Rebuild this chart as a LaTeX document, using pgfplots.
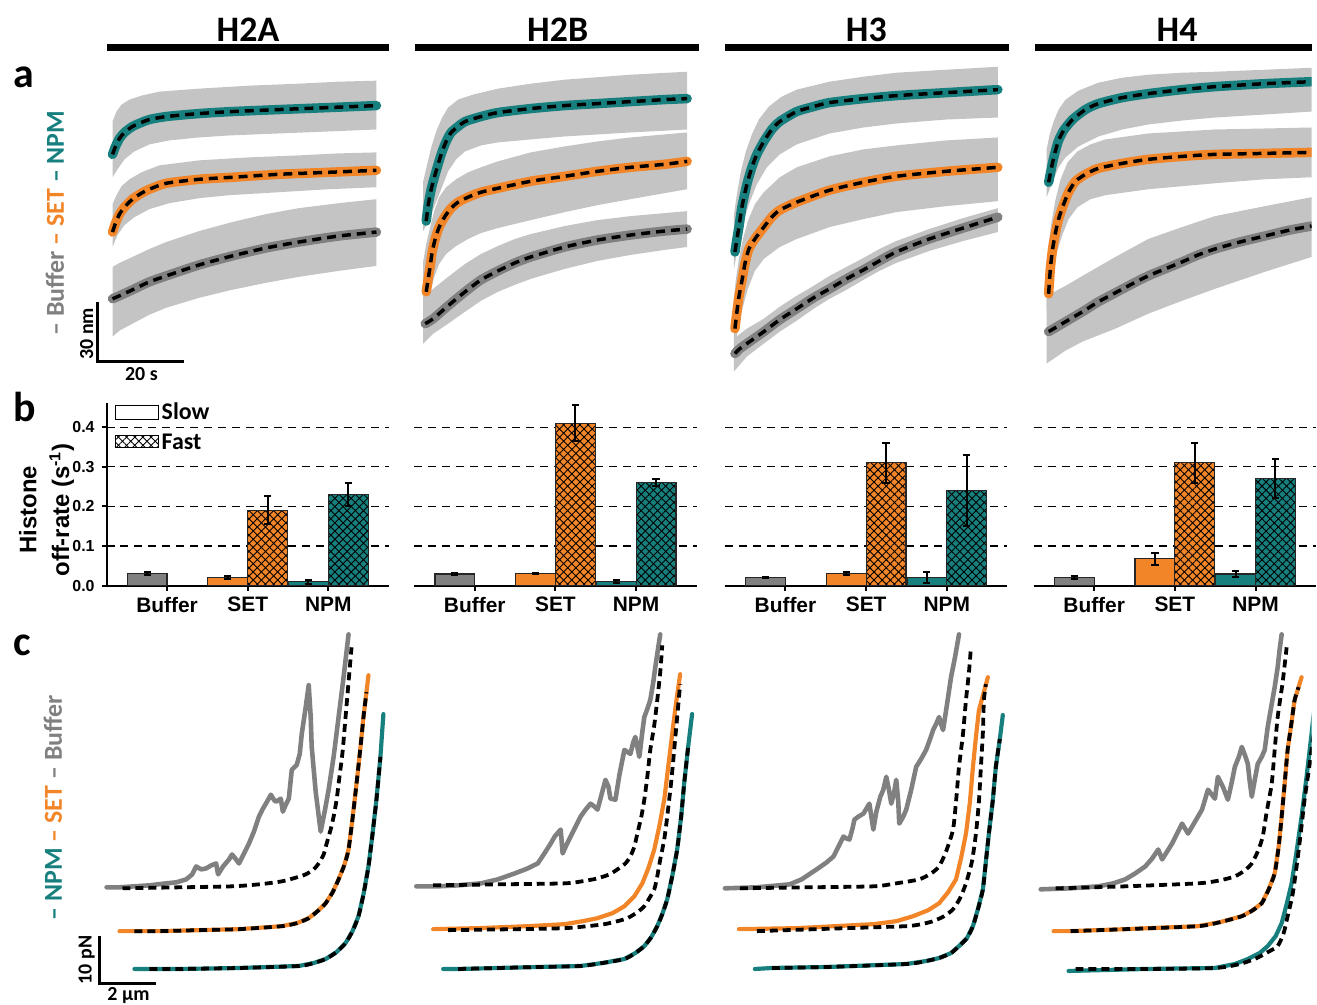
\documentclass[border=0pt]{standalone}
\usepackage{pgfplots}
\pgfplotsset{compat=1.18}
\usepackage{pgfplotstable}
\usetikzlibrary{patterns.meta}
\usepackage{fontspec}
\setmainfont{Carlito}
\newfontfamily\arial{Liberation Sans}

\definecolor{cteal}{HTML}{17807F}
\definecolor{corange}{HTML}{F28527}
\definecolor{cgray}{HTML}{808080}
\definecolor{cband}{HTML}{C4C4C4}

\tikzset{xhatch/.style={postaction={pattern={Lines[angle=45,distance=2.9pt,line width=0.45pt]}},
                        postaction={pattern={Lines[angle=-45,distance=2.9pt,line width=0.45pt]}}}}

\pgfplotsset{
  band/.style={fill=cband, draw=none},
  trA/.style={line width=4.75pt, smooth, tension=0.4, line cap=round, line join=round},
  fitA/.style={black, line width=1.75pt, dash pattern=on 4.5pt off 3pt, smooth, tension=0.4},
  trC/.style={line width=2.1pt, line join=round, line cap=round},
  fitC/.style={black, line width=1.9pt, dash pattern=on 4pt off 2.5pt, smooth, tension=0.4},
  bars/.style={scale only axis, width=141.75pt, height=91.5pt,
    xmin=-0.75, xmax=2.75, ymin=0, ymax=0.46,
    axis x line*=bottom, axis y line*=left,
    axis line style={-, line width=1pt, black},
    xtick={0,1,2}, xticklabels={Buffer,SET,NPM},
    ytick={0,0.1,0.2,0.3,0.4},
    ymajorgrids, major grid style={black, line width=0.6pt, dash pattern=on 4pt off 3pt},
    tick align=outside, major tick length=2.5pt, tick style={line width=1pt, black},
    /pgf/number format/assume math mode=true,
    xticklabel style={font=\arial\bfseries\fontsize{10.5}{12}\selectfont, inner sep=1pt, yshift=-2pt},
    yticklabel style={font=\arial\bfseries\fontsize{8}{9}\selectfont,
      /pgf/number format/fixed, /pgf/number format/fixed zerofill, /pgf/number format/precision=1},
    anchor=south west},
  noy/.style={y axis line style={draw=none}, ytick style={draw=none}, yticklabels={}},
  bar/.style={ybar, bar width=20pt, bar shift=0pt, draw=black!85, line width=0.6pt,
    /pgfplots/error bars/y dir=both, /pgfplots/error bars/y explicit,
    /pgfplots/error bars/error bar style={black, line width=1pt, solid},
    /pgfplots/error bars/error mark options={black, rotate=90, mark size=1.8pt, line width=1pt}},
  slow/.style={bar},
  fast/.style={bar, xhatch},
}

% ---------- panel a: traces (pixel-read positions) ----------
\pgfplotstableread[row sep=\\]{x y\\113 155\\116 147\\120 139\\125 133\\133 127\\142 123\\150 120\\167 117\\200 114\\233 112\\280 110\\330 108\\378 106\\}\aAnpm
\pgfplotstableread[row sep=\\]{x y\\113 233\\116 224\\120 215\\125 208\\133 200\\142 194\\150 190\\167 184\\200 180\\233 178\\280 175\\330 173\\378 171\\}\aAset
\pgfplotstableread[row sep=\\]{x y\\113 300\\120 297\\133 291\\150 283\\167 277\\200 266\\233 257\\267 249\\300 243\\340 237\\378 233\\}\aAbuf
\pgfplotstableread[row sep=\\]{x y\\428 222\\430 206\\433 190\\437 175\\443 155\\448 142\\453 133\\460 127\\467 122\\483 117\\500 113\\533 109\\567 106\\600 104\\633 102\\667 100\\690 99\\}\aBnpm
\pgfplotstableread[row sep=\\]{x y\\428 293\\430 280\\432 267\\434 253\\437 240\\441 228\\447 217\\453 209\\460 203\\470 198\\483 193\\500 189\\533 182\\567 177\\600 172\\633 168\\667 165\\690 162\\}\aBset
\pgfplotstableread[row sep=\\]{x y\\427 325\\435 320\\450 307\\467 293\\483 281\\500 272\\517 264\\533 258\\567 248\\600 241\\633 236\\667 232\\690 230\\}\aBbuf
\pgfplotstableread[row sep=\\]{x y\\738 253\\740 240\\742 228\\745 208\\750 185\\755 168\\760 155\\767 142\\775 130\\783 122\\800 112\\817 107\\833 103\\867 99\\900 96\\950 93\\1002 90\\}\aCnpm
\pgfplotstableread[row sep=\\]{x y\\738 330\\740 313\\742 298\\745 282\\748 265\\752 250\\758 240\\767 228\\775 218\\783 211\\800 203\\833 191\\867 183\\900 177\\950 172\\1002 168\\}\aCset
\pgfplotstableread[row sep=\\]{x y\\738 355\\743 350\\750 345\\767 333\\783 321\\800 310\\817 299\\833 290\\850 280\\867 271\\883 262\\900 253\\933 240\\967 229\\1002 218\\}\aCbuf
\pgfplotstableread[row sep=\\]{x y\\1053 183\\1055 173\\1057 163\\1060 151\\1063 141\\1068 131\\1077 120\\1090 110\\1103 104\\1127 98\\1153 94\\1187 90\\1220 87\\1270 84\\1317 82\\}\aDnpm
\pgfplotstableread[row sep=\\]{x y\\1053 295\\1054 280\\1055 267\\1057 250\\1060 233\\1063 220\\1067 208\\1073 193\\1080 182\\1090 175\\1103 169\\1127 164\\1153 160\\1187 157\\1220 155\\1270 154\\1317 153\\}\aDset
\pgfplotstableread[row sep=\\]{x y\\1053 333\\1070 323\\1087 313\\1103 303\\1120 294\\1137 285\\1153 277\\1170 270\\1187 263\\1203 256\\1220 250\\1245 243\\1270 237\\1295 231\\1317 227\\}\aDbuf

% ---------- panel c: force-extension ----------
\pgfplotstableread[row sep=\\]{x y\\107 891\\120 891\\135 890\\150 889\\167 887\\177 886\\187 883\\193 878\\197 870\\202 873\\207 872\\212 869\\217 867\\219 878\\224 870\\230 863\\233 858\\237 863\\240 867\\245 857\\250 847\\255 835\\260 820\\264 812\\267 807\\272 798\\275 803\\277 805\\282 802\\284 815\\287 808\\290 802\\293 773\\296 770\\298 768\\301 757\\303 737\\307 710\\310 688\\312 720\\313 750\\317 795\\322 835\\326 815\\330 793\\335 760\\340 720\\345 680\\350 637\\}\cAbuf
\pgfplotstableread[row sep=\\]{x y\\123 892\\180 891\\233 890\\260 888\\283 885\\298 881\\307 878\\315 873\\320 867\\325 858\\328 847\\332 833\\335 820\\338 803\\340 787\\344 755\\347 720\\350 685\\353 650\\}\cAbuffit
\pgfplotstableread[row sep=\\]{x y\\120 935\\135 935\\160 935\\200 934\\240 933\\283 930\\298 927\\310 922\\320 914\\327 907\\334 896\\340 883\\346 868\\350 853\\354 822\\358 787\\362 750\\365 720\\368 695\\370 678\\}\cAset
\pgfplotstableread[row sep=\\]{x y\\135 973\\150 973\\180 973\\240 972\\300 970\\315 967\\327 963\\338 956\\347 947\\354 935\\360 920\\365 898\\370 870\\374 838\\378 803\\382 760\\385 717\\}\cAnpm
\pgfplotstableread[row sep=\\]{x y\\418 890\\440 890\\460 889\\483 887\\500 883\\517 877\\530 872\\540 867\\546 858\\553 847\\557 840\\563 833\\565 857\\569 848\\573 840\\578 830\\583 820\\588 813\\593 807\\597 810\\600 813\\604 798\\608 783\\611 790\\613 802\\618 803\\622 778\\627 753\\630 755\\633 757\\636 745\\638 740\\640 750\\642 760\\645 735\\647 720\\650 712\\653 703\\656 685\\658 670\\661 650\\663 637\\}\cBbuf
\pgfplotstableread[row sep=\\]{x y\\435 889\\500 888\\567 887\\590 884\\600 882\\612 878\\620 873\\628 867\\633 860\\637 850\\640 837\\644 820\\647 803\\650 780\\653 753\\657 728\\660 703\\663 675\\665 648\\}\cBbuffit
\pgfplotstableread[row sep=\\]{x y\\435 933\\480 932\\530 930\\567 928\\585 925\\600 922\\615 917\\627 910\\637 900\\645 887\\651 872\\657 853\\662 830\\667 803\\671 770\\675 737\\679 705\\683 677\\}\cBset
\pgfplotstableread[row sep=\\]{x y\\450 934\\520 933\\567 932\\590 930\\607 928\\620 925\\630 922\\640 916\\647 910\\652 902\\657 893\\660 880\\663 863\\667 843\\670 820\\674 785\\677 753\\680 720\\683 687\\}\cBsetfit
\pgfplotstableread[row sep=\\]{x y\\445 973\\460 973\\500 972\\540 971\\583 970\\605 967\\627 963\\638 957\\647 950\\654 941\\660 930\\665 918\\670 903\\675 880\\680 853\\684 820\\687 787\\691 750\\695 717\\}\cBnpm
\pgfplotstableread[row sep=\\]{x y\\728 892\\760 891\\793 888\\805 883\\820 873\\830 866\\837 860\\842 850\\847 840\\850 842\\853 843\\856 832\\858 823\\862 820\\867 817\\870 812\\873 807\\875 820\\877 833\\880 815\\884 800\\887 793\\890 780\\893 795\\895 807\\898 795\\900 783\\902 805\\903 827\\907 820\\910 813\\915 793\\920 770\\925 762\\930 753\\934 742\\937 733\\940 727\\943 720\\945 727\\947 733\\951 707\\955 680\\959 660\\963 637\\}\cCbuf
\pgfplotstableread[row sep=\\]{x y\\743 892\\810 891\\877 890\\900 887\\923 883\\935 877\\943 870\\950 855\\957 833\\960 805\\963 770\\967 737\\970 703\\973 675\\975 650\\}\cCbuffit
\pgfplotstableread[row sep=\\]{x y\\742 933\\800 932\\877 928\\900 925\\917 920\\932 914\\943 907\\952 896\\960 883\\965 862\\970 837\\974 805\\977 770\\980 740\\983 713\\988 695\\992 680\\}\cCset
\pgfplotstableread[row sep=\\]{x y\\760 935\\850 932\\910 930\\925 928\\937 925\\948 920\\957 913\\964 902\\970 887\\976 865\\980 837\\983 805\\985 770\\987 735\\988 703\\990 687\\}\cCsetfit
\pgfplotstableread[row sep=\\]{x y\\758 973\\775 972\\830 971\\910 968\\930 965\\943 962\\955 957\\963 950\\971 942\\977 930\\982 913\\987 893\\990 865\\993 837\\997 803\\1000 770\\1004 742\\1007 718\\}\cCnpm
\pgfplotstableread[row sep=\\]{x y\\1045 893\\1075 892\\1103 890\\1118 887\\1130 883\\1140 877\\1150 870\\1157 862\\1163 853\\1165 858\\1167 863\\1172 855\\1177 847\\1182 837\\1187 827\\1190 832\\1193 837\\1200 825\\1207 813\\1210 803\\1213 793\\1217 798\\1220 802\\1223 780\\1228 790\\1233 803\\1237 785\\1240 770\\1244 760\\1247 750\\1250 758\\1253 767\\1255 785\\1257 800\\1260 783\\1263 767\\1267 760\\1270 753\\1273 730\\1277 707\\1280 690\\1283 670\\1285 652\\1287 637\\}\cDbuf
\pgfplotstableread[row sep=\\]{x y\\1060 892\\1130 890\\1203 887\\1225 884\\1240 880\\1250 874\\1257 867\\1263 855\\1268 840\\1272 815\\1277 787\\1280 753\\1283 720\\1288 685\\1292 650\\}\cDbuffit
\pgfplotstableread[row sep=\\]{x y\\1058 935\\1075 935\\1130 933\\1203 930\\1225 926\\1247 920\\1258 914\\1267 907\\1274 893\\1280 877\\1284 850\\1287 820\\1290 787\\1293 753\\1297 725\\1300 703\\1304 690\\1307 680\\}\cDset
\pgfplotstableread[row sep=\\]{x y\\1073 975\\1150 973\\1220 972\\1240 968\\1253 963\\1265 957\\1273 950\\1281 940\\1287 927\\1292 908\\1297 887\\1302 855\\1307 820\\1312 780\\1317 737\\1322 690\\}\cDnpm
\pgfplotstableread[row sep=\\]{x y\\1080 973\\1150 973\\1220 972\\1245 968\\1262 962\\1275 955\\1283 950\\1289 937\\1293 920\\1298 898\\1302 870\\1306 838\\1310 803\\1314 775\\1317 753\\1320 730\\}\cDnpmfit

\begin{document}
\begin{tikzpicture}
\begin{scope}[x=0.5pt,y=-0.5pt]
  \useasboundingbox (0,0) rectangle (1317,1009);
  \coordinate (cen) at (658.5,504.5);
  \coordinate (b1) at (107,588);
  \coordinate (b2) at (416,588);
  \coordinate (b3) at (728,588);
  \coordinate (b4) at (1038,588);
\end{scope}

% ===== panels a and c (image-wide frame, values in picture pixels) =====
\begin{axis}[scale only axis, width=658.5pt, height=504.5pt, at={(cen)}, anchor=center,
  xmin=0, xmax=1317, ymin=0, ymax=1009, y dir=reverse, hide axis]
  % --- H2A bands
  \addplot[band] coordinates {(113,122) (117,112) (122,105) (130,100) (142,96) (160,92) (200,89) (250,86) (300,84) (340,82) (378,81) (378,130) (330,132) (280,134) (230,136) (200,138) (170,141) (150,145) (135,152) (125,160) (118,170) (113,178)} --cycle;
  \addplot[band] coordinates {(113,205) (117,196) (122,187) (130,180) (142,173) (160,166) (200,161) (250,158) (300,156) (340,154) (378,153) (378,188) (330,190) (280,193) (230,196) (200,199) (170,204) (150,210) (135,218) (125,226) (118,236) (113,248)} --cycle;
  \addplot[band] coordinates {(113,268) (120,264) (133,258) (150,250) (167,243) (200,232) (233,223) (267,215) (300,209) (340,204) (378,200) (378,267) (340,272) (300,278) (267,284) (233,291) (200,299) (167,309) (150,316) (133,325) (120,332) (113,338)} --cycle;
  % --- H2B bands
  \addplot[band] coordinates {(425,182) (429,165) (433,148) (438,132) (444,118) (450,108) (460,100) (475,95) (500,89) (533,84) (567,80) (633,75) (690,72) (690,130) (633,133) (567,137) (533,140) (500,143) (483,146) (467,152) (458,160) (450,172) (443,190) (437,205) (432,218) (425,232)} --cycle;
  \addplot[band] coordinates {(425,262) (428,245) (432,228) (436,212) (441,198) (448,188) (458,180) (470,173) (483,168) (500,162) (533,153) (567,147) (600,142) (633,138) (667,135) (690,133) (690,190) (667,194) (633,200) (600,206) (567,213) (533,221) (500,229) (483,234) (470,240) (458,247) (448,255) (441,265) (436,278) (432,295) (428,312) (425,328)} --cycle;
  \addplot[band] coordinates {(425,298) (435,290) (450,278) (467,265) (483,255) (500,247) (517,240) (533,235) (567,227) (600,221) (633,217) (667,214) (690,212) (690,248) (667,251) (633,256) (600,262) (567,270) (533,280) (517,286) (500,293) (483,302) (467,313) (450,325) (435,335) (425,345)} --cycle;
  % --- H3 bands
  \addplot[band] coordinates {(737,215) (740,195) (744,172) (749,152) (755,135) (762,120) (772,107) (785,97) (800,90) (833,82) (867,77) (900,73) (950,70) (1002,67) (1002,118) (950,120) (900,124) (867,128) (833,134) (800,145) (783,155) (770,168) (760,185) (752,205) (746,225) (741,248) (737,270)} --cycle;
  \addplot[band] coordinates {(737,300) (739,280) (742,260) (746,240) (751,222) (758,205) (767,193) (783,178) (800,168) (833,157) (867,150) (900,146) (950,141) (1002,138) (1002,202) (950,207) (900,213) (867,220) (833,228) (800,240) (783,248) (767,260) (758,272) (751,290) (746,308) (742,325) (739,343) (737,358)} --cycle;
  \addplot[band] coordinates {(737,340) (750,330) (767,320) (783,308) (800,297) (817,287) (833,277) (850,268) (867,259) (883,250) (900,242) (933,230) (967,219) (1002,209) (1002,233) (967,242) (933,252) (900,264) (883,272) (867,281) (850,291) (833,300) (817,310) (800,322) (783,333) (767,345) (750,358) (737,373)} --cycle;
  % --- H4 bands
  \addplot[band] coordinates {(1051,150) (1054,135) (1058,122) (1063,110) (1070,100) (1083,91) (1103,83) (1127,78) (1153,75) (1187,73) (1220,72) (1270,70) (1317,68) (1317,112) (1270,115) (1220,118) (1187,121) (1153,125) (1127,130) (1103,137) (1083,147) (1070,158) (1063,168) (1058,180) (1054,190) (1051,198)} --cycle;
  \addplot[band] coordinates {(1051,265) (1053,245) (1056,222) (1060,200) (1065,180) (1072,163) (1082,152) (1095,145) (1110,140) (1153,134) (1220,130) (1270,129) (1317,128) (1317,178) (1270,180) (1220,184) (1153,190) (1110,196) (1095,200) (1082,208) (1073,220) (1066,238) (1060,258) (1056,280) (1053,298) (1051,312)} --cycle;
  \addplot[band] coordinates {(1051,297) (1070,287) (1087,277) (1120,258) (1153,240) (1187,228) (1220,217) (1270,207) (1317,198) (1317,258) (1270,273) (1220,290) (1187,302) (1153,315) (1120,330) (1087,343) (1070,352) (1051,365)} --cycle;

  % --- traces a
  \addplot[trA, cteal] table {\aAnpm};   \addplot[fitA] table {\aAnpm};
  \addplot[trA, corange] table {\aAset}; \addplot[fitA] table {\aAset};
  \addplot[trA, cgray] table {\aAbuf};   \addplot[fitA] table {\aAbuf};
  \addplot[trA, cteal] table {\aBnpm};   \addplot[fitA] table {\aBnpm};
  \addplot[trA, corange] table {\aBset}; \addplot[fitA] table {\aBset};
  \addplot[trA, cgray] table {\aBbuf};   \addplot[fitA] table {\aBbuf};
  \addplot[trA, cteal] table {\aCnpm};   \addplot[fitA] table {\aCnpm};
  \addplot[trA, corange] table {\aCset}; \addplot[fitA] table {\aCset};
  \addplot[trA, cgray] table {\aCbuf};   \addplot[fitA] table {\aCbuf};
  \addplot[trA, cteal] table {\aDnpm};   \addplot[fitA] table {\aDnpm};
  \addplot[trA, corange] table {\aDset}; \addplot[fitA] table {\aDset};
  \addplot[trA, cgray] table {\aDbuf};   \addplot[fitA] table {\aDbuf};

  % --- panel c
  \addplot[trC, cgray, line width=2.3pt] table {\cAbuf};    \addplot[fitC] table {\cAbuffit};
  \addplot[trC, corange] table {\cAset};  \addplot[fitC, restrict x to domain=133:369] table {\cAset};
  \addplot[trC, cteal] table {\cAnpm};    \addplot[fitC, restrict x to domain=148:383] table {\cAnpm};
  \addplot[trC, cgray, line width=2.3pt] table {\cBbuf};    \addplot[fitC] table {\cBbuffit};
  \addplot[trC, corange] table {\cBset};  \addplot[fitC] table {\cBsetfit};
  \addplot[trC, cteal] table {\cBnpm};    \addplot[fitC, restrict x to domain=458:692] table {\cBnpm};
  \addplot[trC, cgray, line width=2.3pt] table {\cCbuf};    \addplot[fitC] table {\cCbuffit};
  \addplot[trC, corange] table {\cCset};  \addplot[fitC] table {\cCsetfit};
  \addplot[trC, cteal] table {\cCnpm};    \addplot[fitC, restrict x to domain=773:1005] table {\cCnpm};
  \addplot[trC, cgray, line width=2.3pt] table {\cDbuf};    \addplot[fitC] table {\cDbuffit};
  \addplot[trC, corange] table {\cDset};  \addplot[fitC, restrict x to domain=1073:1305] table {\cDset};
  \addplot[trC, cteal] table {\cDnpm};    \addplot[fitC] table {\cDnpmfit};
\end{axis}

% ===== panel b: bar charts (slow bar left of category, fast bar right) =====
\begin{axis}[bars, at={(b1)}]
  \addplot[slow, fill=cgray]   coordinates {(-0.2469,0.030) +- (0,0.004)};
  \addplot[slow, fill=corange] coordinates {(0.7531,0.020) +- (0,0.004)};
  \addplot[fast, fill=corange] coordinates {(1.2469,0.190) +- (0,0.035)};
  \addplot[slow, fill=cteal]   coordinates {(1.7531,0.010) +- (0,0.005)};
  \addplot[fast, fill=cteal]   coordinates {(2.2469,0.230) +- (0,0.030)};
\end{axis}
\begin{axis}[bars, noy, at={(b2)}]
  \addplot[slow, fill=cgray]   coordinates {(-0.2469,0.029) +- (0,0.002)};
  \addplot[slow, fill=corange] coordinates {(0.7531,0.030) +- (0,0.002)};
  \addplot[fast, fill=corange] coordinates {(1.2469,0.410) +- (0,0.045)};
  \addplot[slow, fill=cteal]   coordinates {(1.7531,0.010) +- (0,0.004)};
  \addplot[fast, fill=cteal]   coordinates {(2.2469,0.260) +- (0,0.008)};
\end{axis}
\begin{axis}[bars, noy, at={(b3)}]
  \addplot[slow, fill=cgray]   coordinates {(-0.2469,0.020) +- (0,0.002)};
  \addplot[slow, fill=corange] coordinates {(0.7531,0.030) +- (0,0.004)};
  \addplot[fast, fill=corange] coordinates {(1.2469,0.310) +- (0,0.050)};
  \addplot[slow, fill=cteal]   coordinates {(1.7531,0.020) +- (0,0.014)};
  \addplot[fast, fill=cteal]   coordinates {(2.2469,0.240) +- (0,0.090)};
\end{axis}
\begin{axis}[bars, noy, at={(b4)}]
  \addplot[slow, fill=cgray]   coordinates {(-0.2469,0.020) +- (0,0.003)};
  \addplot[slow, fill=corange] coordinates {(0.7531,0.068) +- (0,0.015)};
  \addplot[fast, fill=corange] coordinates {(1.2469,0.310) +- (0,0.050)};
  \addplot[slow, fill=cteal]   coordinates {(1.7531,0.029) +- (0,0.008)};
  \addplot[fast, fill=cteal]   coordinates {(2.2469,0.270) +- (0,0.050)};
\end{axis}

% ===== annotations =====
\begin{scope}[x=0.5pt,y=-0.5pt]
  % column headers
  \fill (107,44) rectangle (391,51);
  \fill (417,44) rectangle (702,51);
  \fill (728,44) rectangle (1013,51);
  \fill (1039,44) rectangle (1317,51);
  \begin{scope}[every node/.style={font=\bfseries\fontsize{18}{20}\selectfont, anchor=base, inner sep=0pt}]
    \node at (249,42) {H2A};
    \node at (560,42) {H2B};
    \node at (870,42) {H3};
    \node at (1182,42) {H4};
  \end{scope}
  % panel letters
  \begin{scope}[every node/.style={font=\bfseries\fontsize{21}{24}\selectfont, anchor=base, inner sep=0pt}]
    \node at (24,88) {a};
    \node at (25,423) {b};
    \node at (22,658) {c};
  \end{scope}
  % series keys
  \node[rotate=90, font=\bfseries\fontsize{13}{15}\selectfont, inner sep=0pt] at (55,224)
     {\textcolor{cgray}{– Buffer} \textcolor{corange}{– SET} \textcolor{cteal}{– NPM}};
  \node[rotate=90, font=\bfseries\fontsize{13}{15}\selectfont, inner sep=0pt] at (53,811)
     {\textcolor{cteal}{– NPM} \textcolor{corange}{– SET} \textcolor{cgray}{– Buffer}};
  % scale bars
  \draw[line width=1.5pt, line join=miter] (98,303) -- (98,363) -- (185,363);
  \node[rotate=90, font=\bfseries\fontsize{10}{12}\selectfont, inner sep=0pt] at (87,335) {30 nm};
  \node[font=\bfseries\fontsize{10}{12}\selectfont, inner sep=0pt] at (142,376) {20 s};
  \draw[line width=1.5pt, line join=miter] (100,940) -- (100,988) -- (157,988);
  \node[rotate=90, font=\bfseries\fontsize{10}{12}\selectfont, inner sep=0pt] at (87,964) {10 pN};
  \node[font=\bfseries\fontsize{10}{12}\selectfont, inner sep=0pt] at (129,1000) {2 µm};
  % bar chart y label
  \node[rotate=90, font=\arial\bfseries\fontsize{12}{14}\selectfont, inner sep=0pt] at (28,512) {Histone};
  \node[rotate=90, font=\arial\bfseries\fontsize{12}{14}\selectfont, inner sep=0pt] at (62,512) {off-rate (s\textsuperscript{-1})};
  % legend
  \draw[line width=0.6pt, fill=white] (116,407) rectangle (159,421);
  \draw[line width=0.6pt, fill=white, xhatch] (116,437) rectangle (159,449);
  \node[anchor=base west, font=\bfseries\fontsize{12}{13}\selectfont, inner sep=0pt] at (162,421) {Slow};
  \node[anchor=base west, font=\bfseries\fontsize{12}{13}\selectfont, inner sep=0pt] at (162,451) {Fast};
\end{scope}
\end{tikzpicture}
\end{document}
